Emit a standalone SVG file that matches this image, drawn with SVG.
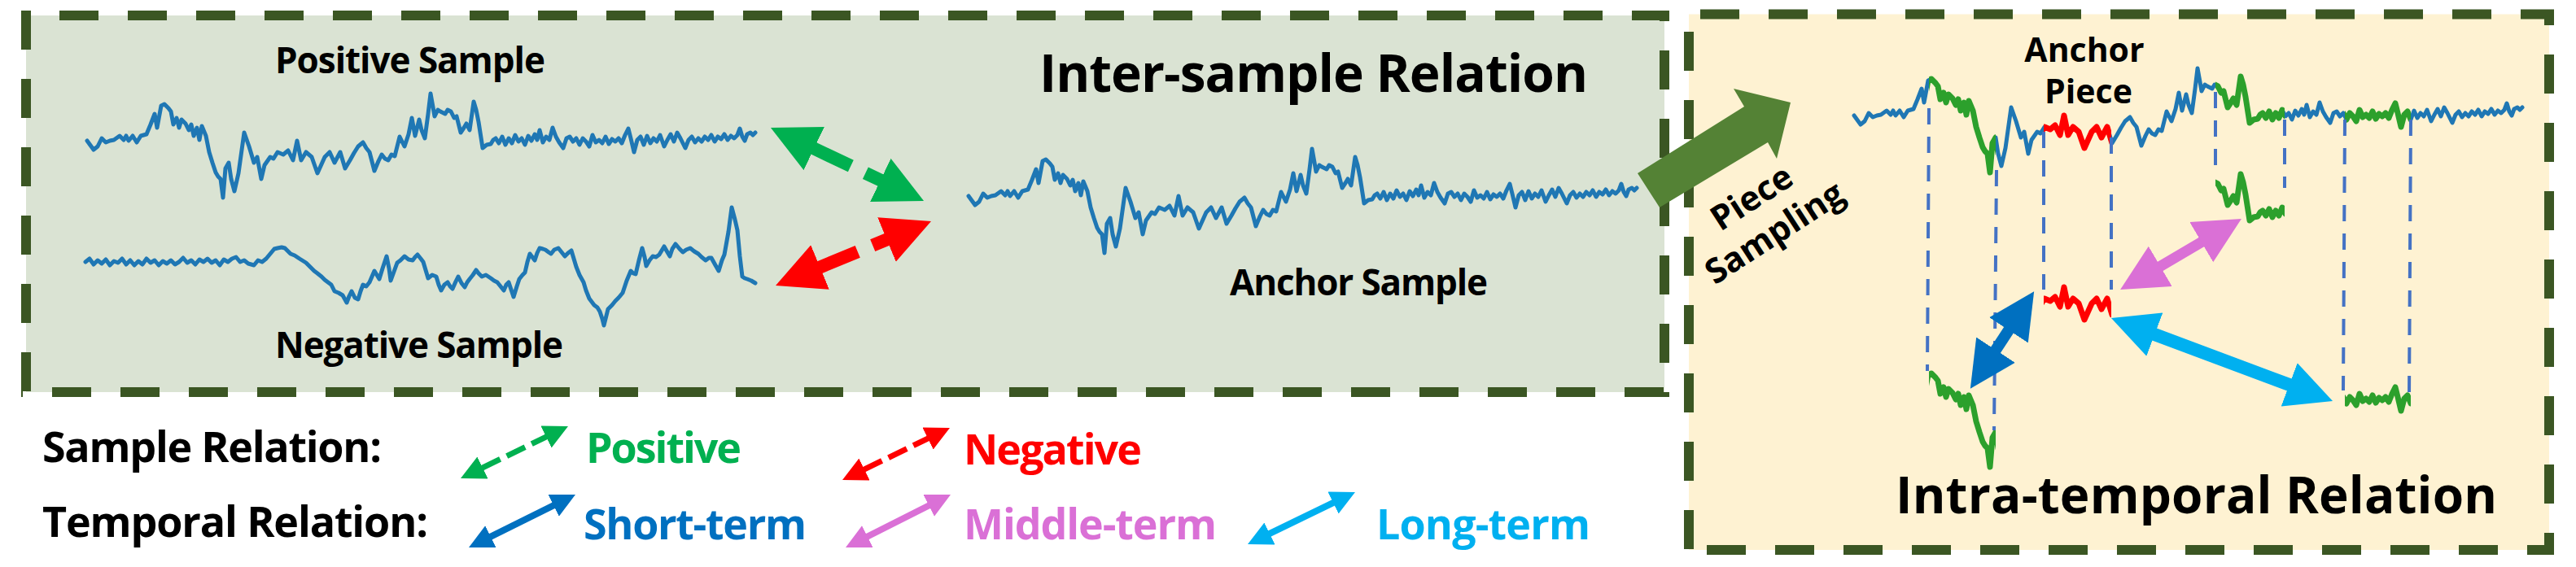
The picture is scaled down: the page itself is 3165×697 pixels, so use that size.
<svg xmlns="http://www.w3.org/2000/svg" width="3165" height="697" viewBox="0 0 3165 697">
<style>
text{font-family:"Open Sans","Noto Sans","Liberation Sans",sans-serif;font-weight:700}
.lbl{font-size:44px;fill:#000}
.title{font-size:64px;fill:#000}
.leg{font-size:52px}
.border{stroke:#3B5623;stroke-width:12;stroke-dasharray:48 36;fill:none}
.ts{fill:none;stroke:#1F77B4;stroke-width:5;stroke-linejoin:round;stroke-linecap:round}
.gp{fill:none;stroke:#2CA02C;stroke-width:7;stroke-linejoin:round;stroke-linecap:round}
.rp{fill:none;stroke:#FF0000;stroke-width:7;stroke-linejoin:round;stroke-linecap:round}
.guide{stroke:#4472C4;stroke-width:4;stroke-dasharray:20 15;fill:none}
</style>
<defs>
<path id="ts" d="M107,173 L115,184 120,180 125,170 130,175 135,173 140,172 147,167 152,172 155,167 158,173 163,167 168,175 173,167 180,165 185,153 190,140 193,157 198,130 202,128 207,133 210,137 213,153 217,145 220,157 223,147 228,152 232,160 235,153 238,167 242,157 245,172 248,155 253,167 257,187 261,200 265,212 268,217 271,220 274,243 277,207 281,200 284,220 288,235 293,213 300,163 306,180 312,200 316,193 321,220 325,203 332,193 336,195 341,187 348,190 354,185 360,197 365,173 370,197 376,187 383,193 390,213 399,193 405,187 411,200 418,187 424,207 430,197 435,188 440,180 446,175 450,182 454,187 460,210 465,198 469,190 473,195 477,197 481,190 485,192 491,168 497,180 502,165 506,145 510,167 515,147 518,160 522,170 526,140 529,115 534,143 538,135 541,137 547,140 550,135 554,137 558,145 561,143 566,163 570,157 573,152 577,160 582,125 585,135 588,150 593,182 598,178 603,177 606,172 609,170 613,176 617,168 621,178 625,170 629,176 633,166 637,174 641,170 645,178 649,167 653,173 657,165 660,172 663,160 667,175 671,168 675,172 679,157 683,168 687,175 692,182 696,170 700,168 704,174 708,170 712,178 716,170 720,174 724,180 728,166 732,175 736,172 740,176 744,168 748,177 752,171 756,174 760,170 764,176 768,166 772,158 775,170 779,187 783,172 787,168 791,178 795,167 799,176 803,170 807,174 811,166 816,180 820,172 824,165 828,174 832,163 836,170 842,182 846,172 850,168 854,175 858,170 862,174 866,168 870,172 874,166 878,174 882,168 886,171 890,165 894,172 898,167 902,170 906,166 909,158 912,168 915,173 918,165 922,163 925,166 928,163"/>
<clipPath id="cG1"><rect x="199" y="0" width="82" height="400"/></clipPath>
<clipPath id="cR"><rect x="340" y="0" width="83" height="400"/></clipPath>
<clipPath id="cG2"><rect x="551" y="0" width="85" height="400"/></clipPath>
<clipPath id="cG3"><rect x="710" y="0" width="81" height="400"/></clipPath>
<marker id="hGreenL" markerUnits="userSpaceOnUse" markerWidth="60" markerHeight="60" viewBox="0 -30 60 60" refX="1" refY="0" orient="auto-start-reverse"><path d="M0,-29.5 L59,0 L0,29.5 Z" fill="#00B050"/></marker>
<marker id="hRedL" markerUnits="userSpaceOnUse" markerWidth="60" markerHeight="60" viewBox="0 -30 60 60" refX="1" refY="0" orient="auto-start-reverse"><path d="M0,-29.5 L59,0 L0,29.5 Z" fill="#FF0000"/></marker>
<marker id="hBlueM" markerUnits="userSpaceOnUse" markerWidth="58" markerHeight="58" viewBox="0 -29 58 58" refX="1" refY="0" orient="auto-start-reverse"><path d="M0,-28.5 L57,0 L0,28.5 Z" fill="#0070C0"/></marker>
<marker id="hPinkM" markerUnits="userSpaceOnUse" markerWidth="58" markerHeight="58" viewBox="0 -29 58 58" refX="1" refY="0" orient="auto-start-reverse"><path d="M0,-28.5 L57,0 L0,28.5 Z" fill="#DA70D6"/></marker>
<marker id="hCyanM" markerUnits="userSpaceOnUse" markerWidth="58" markerHeight="58" viewBox="0 -29 58 58" refX="1" refY="0" orient="auto-start-reverse"><path d="M0,-28.5 L57,0 L0,28.5 Z" fill="#00B0F0"/></marker>
<marker id="hGreenS" markerUnits="userSpaceOnUse" markerWidth="31" markerHeight="30" viewBox="0 -15 31 30" refX="1" refY="0" orient="auto-start-reverse"><path d="M0,-15 L30,0 L0,15 Z" fill="#00B050"/></marker>
<marker id="hRedS" markerUnits="userSpaceOnUse" markerWidth="31" markerHeight="30" viewBox="0 -15 31 30" refX="1" refY="0" orient="auto-start-reverse"><path d="M0,-15 L30,0 L0,15 Z" fill="#FF0000"/></marker>
<marker id="hBlueS" markerUnits="userSpaceOnUse" markerWidth="31" markerHeight="30" viewBox="0 -15 31 30" refX="1" refY="0" orient="auto-start-reverse"><path d="M0,-15 L30,0 L0,15 Z" fill="#0070C0"/></marker>
<marker id="hPinkS" markerUnits="userSpaceOnUse" markerWidth="31" markerHeight="30" viewBox="0 -15 31 30" refX="1" refY="0" orient="auto-start-reverse"><path d="M0,-15 L30,0 L0,15 Z" fill="#DA70D6"/></marker>
<marker id="hCyanS" markerUnits="userSpaceOnUse" markerWidth="31" markerHeight="30" viewBox="0 -15 31 30" refX="1" refY="0" orient="auto-start-reverse"><path d="M0,-15 L30,0 L0,15 Z" fill="#00B0F0"/></marker>
</defs>
<rect width="3165" height="697" fill="#FFFFFF"/>

<g id="inter-panel">
<rect x="32" y="19" width="2013" height="463" fill="#DAE3D3"/>
<line class="border" x1="26" y1="19" x2="2051" y2="19" stroke-dashoffset="37"/>
<line class="border" x1="26" y1="482" x2="2051" y2="482" stroke-dashoffset="46"/>
<line class="border" x1="32" y1="13" x2="32" y2="488" stroke-dashoffset="0"/>
<line class="border" x1="2045" y1="13" x2="2045" y2="488" stroke-dashoffset="35"/>
<text class="title" x="1277" y="113" textLength="674">Inter-sample Relation</text>
</g>

<g id="intra-panel">
<rect x="2075" y="17.5" width="1057" height="658.5" fill="#FEF2D2"/>
<line class="border" x1="2069" y1="17.5" x2="3138" y2="17.5" stroke-dashoffset="64"/>
<line class="border" x1="2069" y1="676" x2="3138" y2="676" stroke-dashoffset="56"/>
<line class="border" x1="2075" y1="12" x2="2075" y2="682" stroke-dashoffset="57"/>
<line class="border" x1="3132" y1="12" x2="3132" y2="682" stroke-dashoffset="29"/>
<text class="title" x="2329" y="631" textLength="739" style="font-size:62px">Intra-temporal Relation</text>
</g>

<g id="positive-sample">
<use href="#ts" class="ts"/>
<text class="lbl" x="338" y="90" textLength="332">Positive Sample</text>
</g>

<g id="negative-sample">
<path class="ts" d="M105,322 L110,318 115,325 120,320 125,324 130,319 135,326 140,321 145,323 150,318 155,325 160,320 165,326 170,321 175,325 180,318 185,323 190,320 195,326 200,321 205,324 210,320 215,325 220,322 225,317 230,323 235,320 240,325 245,319 250,322 255,318 260,323 265,320 270,326 275,319 280,322 285,318 290,316 295,322 300,320 305,324 312,326 317,320 322,322 327,318 332,312 337,306 341,305 346,304 350,305 354,309 357,312 362,314 368,318 376,323 381,328 386,333 390,336 395,340 399,344 403,347 407,350 411,358 416,360 421,363 426,372 429,364 432,358 436,366 440,368 443,358 446,350 450,352 454,347 457,340 460,333 463,338 466,343 470,330 475,315 478,330 480,345 484,334 488,323 492,320 497,315 502,319 507,320 510,316 513,313 517,318 520,322 523,332 526,342 531,338 536,340 539,350 542,357 546,350 550,347 553,352 556,355 560,346 563,340 567,348 571,353 574,347 577,343 581,338 585,332 588,336 592,340 597,338 603,342 607,345 611,347 615,352 619,357 622,350 625,347 628,356 631,365 635,352 638,343 642,338 645,335 648,322 651,312 654,316 657,320 660,311 663,305 667,306 670,307 674,310 677,312 681,307 686,305 690,310 694,315 698,311 702,308 705,318 708,328 712,338 717,347 720,357 724,367 727,371 730,375 734,378 737,383 740,392 742,400 745,388 747,380 752,375 756,370 760,366 765,360 770,345 775,333 778,336 781,337 785,320 789,305 792,316 794,327 798,320 802,315 806,316 810,313 813,308 816,303 820,310 823,315 826,306 830,300 835,306 839,310 843,307 848,305 853,309 858,312 862,316 867,320 871,317 874,317 879,326 883,333 887,320 890,313 895,285 899,255 903,270 906,283 909,315 912,340 915,342 918,343 923,345 928,348"/>
<text class="lbl" x="338" y="440" textLength="354">Negative Sample</text>
</g>

<g id="anchor-sample">
<use href="#ts" class="ts" transform="translate(1083,68)"/>
<text class="lbl" x="1511" y="363" textLength="317">Anchor Sample</text>
</g>

<g id="anchor-series">
<use href="#ts" class="ts" transform="translate(2171,-31)"/>
<use href="#ts" class="gp" transform="translate(2171,-31)" clip-path="url(#cG1)"/>
<use href="#ts" class="rp" transform="translate(2171,-31)" clip-path="url(#cR)"/>
<use href="#ts" class="gp" transform="translate(2171,-31)" clip-path="url(#cG2)"/>
<use href="#ts" class="gp" transform="translate(2171,-31)" clip-path="url(#cG3)"/>
<text class="lbl" x="2561" y="76" text-anchor="middle" style="font-size:41px">Anchor</text>
<text class="lbl" x="2566" y="127" text-anchor="middle" style="font-size:41px">Piece</text>
</g>

<g id="piece-short">
<use href="#ts" class="gp" transform="translate(2171,331)" clip-path="url(#cG1)"/>
</g>
<g id="piece-anchor">
<use href="#ts" class="rp" transform="translate(2171,180)" clip-path="url(#cR)"/>
</g>
<g id="piece-middle">
<use href="#ts" class="gp" transform="translate(2171,89)" clip-path="url(#cG2)"/>
</g>
<g id="piece-long">
<use href="#ts" class="gp" transform="translate(2171,318)" clip-path="url(#cG3)"/>
</g>

<g id="connectors">
<line class="guide" x1="2370" y1="133" x2="2368" y2="456"/>
<line class="guide" x1="2453" y1="209" x2="2450" y2="529"/>
<line class="guide" x1="2511" y1="162" x2="2511" y2="356"/>
<line class="guide" x1="2594" y1="169" x2="2594" y2="356"/>
<line class="guide" x1="2722" y1="113" x2="2722" y2="204"/>
<line class="guide" x1="2807" y1="147" x2="2807" y2="231"/>
<line class="guide" x1="2881" y1="147" x2="2879" y2="480"/>
<line class="guide" x1="2962" y1="147" x2="2960" y2="489"/>

<line x1="999.3" y1="182.1" x2="1082.7" y2="221.9" stroke="#00B050" stroke-width="16" stroke-dasharray="51 20 100" marker-start="url(#hGreenL)" marker-end="url(#hGreenL)"/>
<line x1="1006.6" y1="328.8" x2="1090.4" y2="294.2" stroke="#FF0000" stroke-width="16" stroke-dasharray="51 20 100" marker-start="url(#hRedL)" marker-end="url(#hRedL)"/>

<polygon points="2012,213 2143,131 2130,109 2200,126 2183,195 2172,175 2039,255" fill="#548235"/>
<text class="lbl" transform="translate(2160,255) rotate(-33)" text-anchor="middle" style="font-size:42px">Piece</text>
<text class="lbl" transform="translate(2188,298) rotate(-33)" text-anchor="middle" style="font-size:42px">Sampling</text>

<line x1="2451.5" y1="431" x2="2468.5" y2="405" stroke="#0070C0" stroke-width="14" marker-start="url(#hBlueM)" marker-end="url(#hBlueM)"/>
<line x1="2653.4" y1="327.8" x2="2705.6" y2="297.2" stroke="#DA70D6" stroke-width="13" marker-start="url(#hPinkM)" marker-end="url(#hPinkM)"/>
<line x1="2646.4" y1="410.7" x2="2813.6" y2="473.3" stroke="#00B0F0" stroke-width="16" marker-start="url(#hCyanM)" marker-end="url(#hCyanM)"/>
</g>

<g id="legend">
<text class="leg" x="52" y="568" fill="#000" textLength="417">Sample Relation:</text>
<text class="leg" x="52" y="660" fill="#000" textLength="474">Temporal Relation:</text>
<line x1="592.1" y1="575.4" x2="671.9" y2="536.6" stroke="#00B050" stroke-width="7" stroke-dasharray="25 9" marker-start="url(#hGreenS)" marker-end="url(#hGreenS)"/>
<text class="leg" x="720" y="569" fill="#00B050" textLength="191">Positive</text>
<line x1="1061.1" y1="577.4" x2="1140.9" y2="538.6" stroke="#FF0000" stroke-width="7" stroke-dasharray="25 9" marker-start="url(#hRedS)" marker-end="url(#hRedS)"/>
<text class="leg" x="1184" y="571" fill="#FF0000" textLength="219">Negative</text>
<line x1="602" y1="660.1" x2="681" y2="620.9" stroke="#0070C0" stroke-width="8" marker-start="url(#hBlueS)" marker-end="url(#hBlueS)"/>
<text class="leg" x="717" y="663" fill="#0070C0" textLength="274">Short-term</text>
<line x1="1064.9" y1="660" x2="1142.1" y2="621" stroke="#DA70D6" stroke-width="8" marker-start="url(#hPinkS)" marker-end="url(#hPinkS)"/>
<text class="leg" x="1184" y="663" fill="#DA70D6" textLength="311">Middle-term</text>
<line x1="1559.1" y1="656.4" x2="1638.9" y2="617.6" stroke="#00B0F0" stroke-width="8" marker-start="url(#hCyanS)" marker-end="url(#hCyanS)"/>
<text class="leg" x="1691" y="663" fill="#00B0F0" textLength="263">Long-term</text>
</g>
</svg>
